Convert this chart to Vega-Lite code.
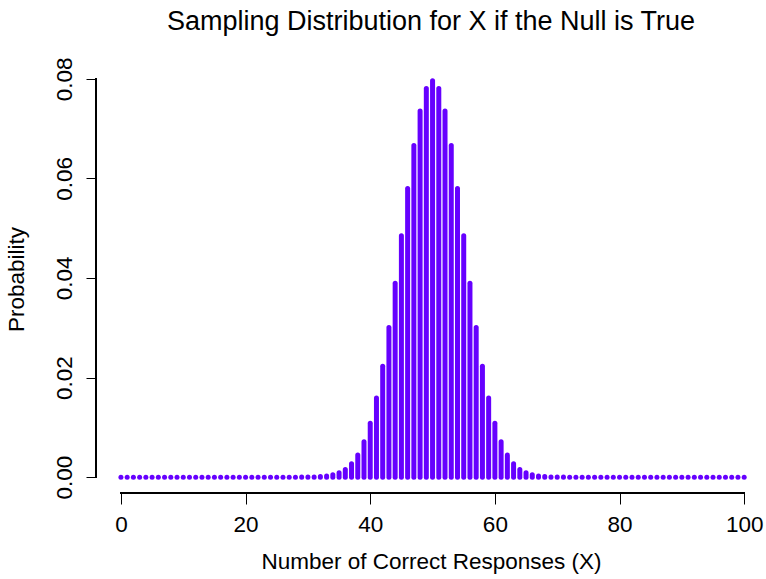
{
  "$schema": "https://vega.github.io/schema/vega-lite/v6.json",
  "autosize": "none",
  "width": 670,
  "height": 428,
  "padding": {"left": 96, "top": 65, "right": 0, "bottom": 86},
  "background": "white",
  "config": {
    "view": {"stroke": null},
    "font": "Liberation Sans"
  },
  "title": {
    "text": "Sampling Distribution for X if the Null is True",
    "font": "Liberation Sans",
    "fontSize": 27,
    "fontWeight": "normal",
    "color": "#000000",
    "anchor": "middle",
    "frame": "group",
    "baseline": "bottom",
    "offset": -6
  },
  "data": {
    "values": [
      {"k": 0, "p": 0}, {"k": 1, "p": 0}, {"k": 2, "p": 0}, {"k": 3, "p": 0}, {"k": 4, "p": 0},
      {"k": 5, "p": 0}, {"k": 6, "p": 0}, {"k": 7, "p": 0}, {"k": 8, "p": 0}, {"k": 9, "p": 0},
      {"k": 10, "p": 0}, {"k": 11, "p": 0}, {"k": 12, "p": 0}, {"k": 13, "p": 0}, {"k": 14, "p": 0},
      {"k": 15, "p": 0}, {"k": 16, "p": 0}, {"k": 17, "p": 0}, {"k": 18, "p": 0}, {"k": 19, "p": 0},
      {"k": 20, "p": 0}, {"k": 21, "p": 0}, {"k": 22, "p": 0}, {"k": 23, "p": 0}, {"k": 24, "p": 0},
      {"k": 25, "p": 0.00000019}, {"k": 26, "p": 0.00000055}, {"k": 27, "p": 0.00000151}, {"k": 28, "p": 0.00000394}, {"k": 29, "p": 0.00000979},
      {"k": 30, "p": 0.0000232}, {"k": 31, "p": 0.0000523}, {"k": 32, "p": 0.000113}, {"k": 33, "p": 0.000232}, {"k": 34, "p": 0.000458},
      {"k": 35, "p": 0.000864}, {"k": 36, "p": 0.00156}, {"k": 37, "p": 0.00270}, {"k": 38, "p": 0.00447}, {"k": 39, "p": 0.00711},
      {"k": 40, "p": 0.01084}, {"k": 41, "p": 0.01587}, {"k": 42, "p": 0.02229}, {"k": 43, "p": 0.03007}, {"k": 44, "p": 0.03895},
      {"k": 45, "p": 0.04847}, {"k": 46, "p": 0.05796}, {"k": 47, "p": 0.06659}, {"k": 48, "p": 0.07353}, {"k": 49, "p": 0.07803},
      {"k": 50, "p": 0.07959},
      {"k": 51, "p": 0.07803}, {"k": 52, "p": 0.07353}, {"k": 53, "p": 0.06659}, {"k": 54, "p": 0.05796}, {"k": 55, "p": 0.04847},
      {"k": 56, "p": 0.03895}, {"k": 57, "p": 0.03007}, {"k": 58, "p": 0.02229}, {"k": 59, "p": 0.01587}, {"k": 60, "p": 0.01084},
      {"k": 61, "p": 0.00711}, {"k": 62, "p": 0.00447}, {"k": 63, "p": 0.00270}, {"k": 64, "p": 0.00156}, {"k": 65, "p": 0.000864},
      {"k": 66, "p": 0.000458}, {"k": 67, "p": 0.000232}, {"k": 68, "p": 0.000113}, {"k": 69, "p": 0.0000523}, {"k": 70, "p": 0.0000232},
      {"k": 71, "p": 0.00000979}, {"k": 72, "p": 0.00000394}, {"k": 73, "p": 0.00000151}, {"k": 74, "p": 0.00000055}, {"k": 75, "p": 0.00000019},
      {"k": 76, "p": 0}, {"k": 77, "p": 0}, {"k": 78, "p": 0}, {"k": 79, "p": 0}, {"k": 80, "p": 0},
      {"k": 81, "p": 0}, {"k": 82, "p": 0}, {"k": 83, "p": 0}, {"k": 84, "p": 0}, {"k": 85, "p": 0},
      {"k": 86, "p": 0}, {"k": 87, "p": 0}, {"k": 88, "p": 0}, {"k": 89, "p": 0}, {"k": 90, "p": 0},
      {"k": 91, "p": 0}, {"k": 92, "p": 0}, {"k": 93, "p": 0}, {"k": 94, "p": 0}, {"k": 95, "p": 0},
      {"k": 96, "p": 0}, {"k": 97, "p": 0}, {"k": 98, "p": 0}, {"k": 99, "p": 0}, {"k": 100, "p": 0}
    ]
  },
  "layer": [
    {
      "mark": {"type": "rule", "color": "#6600ff", "strokeWidth": 5, "strokeCap": "round"},
      "encoding": {
        "x": {
          "field": "k", "type": "quantitative",
          "scale": {"domain": [-4, 103.5], "nice": false, "zero": false},
          "axis": {
            "title": "Number of Correct Responses (X)",
            "values": [0, 20, 40, 60, 80, 100],
            "domain": false, "grid": false,
            "tickSize": 11, "tickColor": "#000000", "tickWidth": 1,
            "labelFont": "Liberation Sans", "labelFontSize": 22.5, "labelColor": "#000000",
            "labelPadding": 9, "labelFlush": false,
            "titleFont": "Liberation Sans", "titleFontSize": 22.5, "titleFontWeight": "normal", "titleColor": "#000000",
            "titleBaseline": "alphabetic", "titlePadding": 33
          }
        },
        "y": {
          "field": "p", "type": "quantitative",
          "scale": {"domain": [-0.003184, 0.08277], "nice": false, "zero": false},
          "axis": {
            "title": "Probability",
            "values": [0, 0.02, 0.04, 0.06, 0.08],
            "format": ".2f",
            "domain": false, "grid": false,
            "tickSize": 10, "tickColor": "#000000", "tickWidth": 1,
            "labelFont": "Liberation Sans", "labelFontSize": 22.5, "labelColor": "#000000",
            "labelAngle": -90, "labelAlign": "center", "labelBaseline": "alphabetic",
            "labelPadding": 15, "labelFlush": false,
            "titleFont": "Liberation Sans", "titleFontSize": 22.5, "titleFontWeight": "normal", "titleColor": "#000000",
            "titleAngle": -90, "titleBaseline": "alphabetic", "titlePadding": 30
          }
        },
        "y2": {"datum": 0}
      }
    },
    {
      "mark": {"type": "rule", "color": "#000000", "strokeWidth": 1},
      "encoding": {
        "x": {"datum": 0},
        "x2": {"datum": 100},
        "y": {"datum": -0.003184}
      }
    },
    {
      "mark": {"type": "rule", "color": "#000000", "strokeWidth": 1},
      "encoding": {
        "y": {"datum": 0},
        "y2": {"datum": 0.08},
        "x": {"datum": -4}
      }
    }
  ]
}
